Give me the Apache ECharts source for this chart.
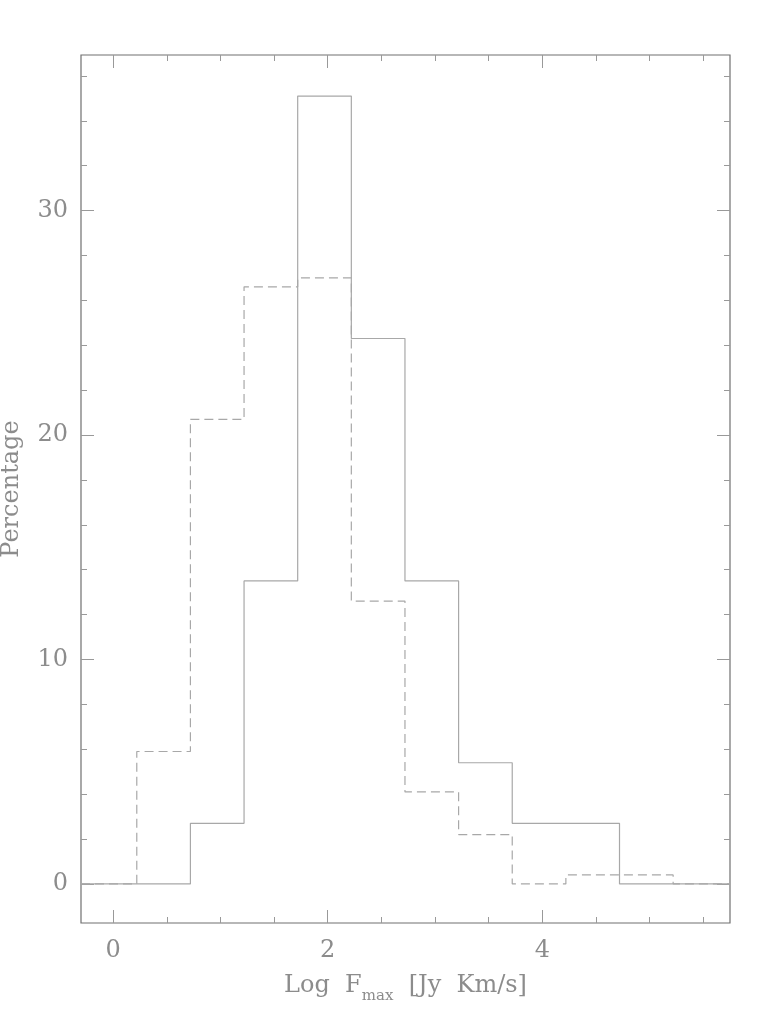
<!DOCTYPE html>
<html>
<head>
<meta charset="utf-8">
<title>Log Fmax histogram</title>
<script src="https://cdn.jsdelivr.net/npm/echarts@6/dist/echarts.min.js"></script>
<style>
  html, body { margin: 0; padding: 0; background: #fff; }
  #chart { width: 771px; height: 1028px; }
</style>
</head>
<body>
<div id="chart"></div>
<script>
// left bin edges (Log Fmax), each bin 0.5 wide
var binEdges = [0.22, 0.72, 1.22, 1.72, 2.22, 2.72, 3.22, 3.72, 4.22, 4.72, 5.22]
// percentage per bin
var solidValues = [0, 2.7, 13.5, 35.1, 24.3, 13.5, 5.4, 2.7, 2.7, 0, 0]
var dashedValues = [5.9, 20.7, 26.6, 27.0, 12.6, 4.1, 2.2, 0, 0.4, 0.4, 0]

var xRange = [-0.3, 5.75]
var yRange = [-1.74, 36.93]
var xMajor = [0, 2, 4]
var xMinor = [0.5, 1, 1.5, 2.5, 3, 3.5, 4.5, 5, 5.5]
var yMajor = [0, 10, 20, 30]
var yMinor = [2, 4, 6, 8, 12, 14, 16, 18, 22, 24, 26, 28, 32, 34, 36]

var frameColor = '#707070'
var lineColor = '#a8a8a8'
var textColor = '#8c8c8c'
var font = 'DejaVu Serif'

function stepData(values) {
  var pts = [[xRange[0], 0]]
  for (var i = 0; i < binEdges.length; i++) {
    pts.push([binEdges[i], values[i]])
  }
  pts.push([xRange[1], 0])
  return pts
}

function axis(dim, pos, ticks, len, labels, extra) {
  var range = dim === 'x' ? xRange : yRange
  var a = {
    type: 'value',
    position: pos,
    min: range[0],
    max: range[1],
    splitLine: { show: false },
    axisLine: { show: false, onZero: false },
    axisTick: {
      show: true,
      inside: true,
      length: len,
      customValues: ticks,
      lineStyle: { color: '#999', width: 1 }
    },
    axisLabel: labels ? {
      show: true,
      customValues: ticks,
      color: textColor,
      fontFamily: font,
      fontSize: 24,
      margin: dim === 'x' ? 16 : 13
    } : { show: false }
  }
  return Object.assign(a, extra || {})
}

var chart = echarts.init(document.getElementById('chart'))
var option = {
  backgroundColor: '#fff',
  animation: false,
  grid: {
    left: 81, right: 41, top: 55, bottom: 105,
    outerBoundsMode: 'none',
    containLabel: false,
    show: true,
    borderColor: frameColor,
    borderWidth: 1.2,
    backgroundColor: 'transparent'
  },
  xAxis: [
    axis('x', 'bottom', xMajor, 13, true, {
      name: '{a|Log  F}{s|max}{a|  [Jy  Km/s]}',
      nameLocation: 'middle',
      nameGap: 51,
      nameTextStyle: {
        rich: {
          a: { fontFamily: font, fontSize: 24, color: textColor, lineHeight: 30, verticalAlign: 'top' },
          s: { fontFamily: font, fontSize: 15, color: textColor, lineHeight: 30, verticalAlign: 'bottom', padding: [12, 0, 0, 0] }
        }
      }
    }),
    axis('x', 'bottom', xMinor, 6, false),
    axis('x', 'top', xMajor, 13, false),
    axis('x', 'top', xMinor, 6, false)
  ],
  yAxis: [
    axis('y', 'left', yMajor, 13, true, {
      name: 'Percentage',
      nameLocation: 'middle',
      nameGap: 57,
      nameTextStyle: { fontFamily: font, fontSize: 24, color: textColor }
    }),
    axis('y', 'left', yMinor, 6, false),
    axis('y', 'right', yMajor, 13, false),
    axis('y', 'right', yMinor, 6, false)
  ],
  series: [
    {
      name: 'solid',
      type: 'line',
      step: 'end',
      symbol: 'none',
      data: stepData(solidValues),
      lineStyle: { color: lineColor, width: 1.2, type: 'solid' }
    },
    {
      name: 'dashed',
      type: 'line',
      step: 'end',
      symbol: 'none',
      data: stepData(dashedValues),
      lineStyle: { color: lineColor, width: 1.2, type: [9, 5] }
    }
  ]
}
chart.setOption(option)
</script>
</body>
</html>
